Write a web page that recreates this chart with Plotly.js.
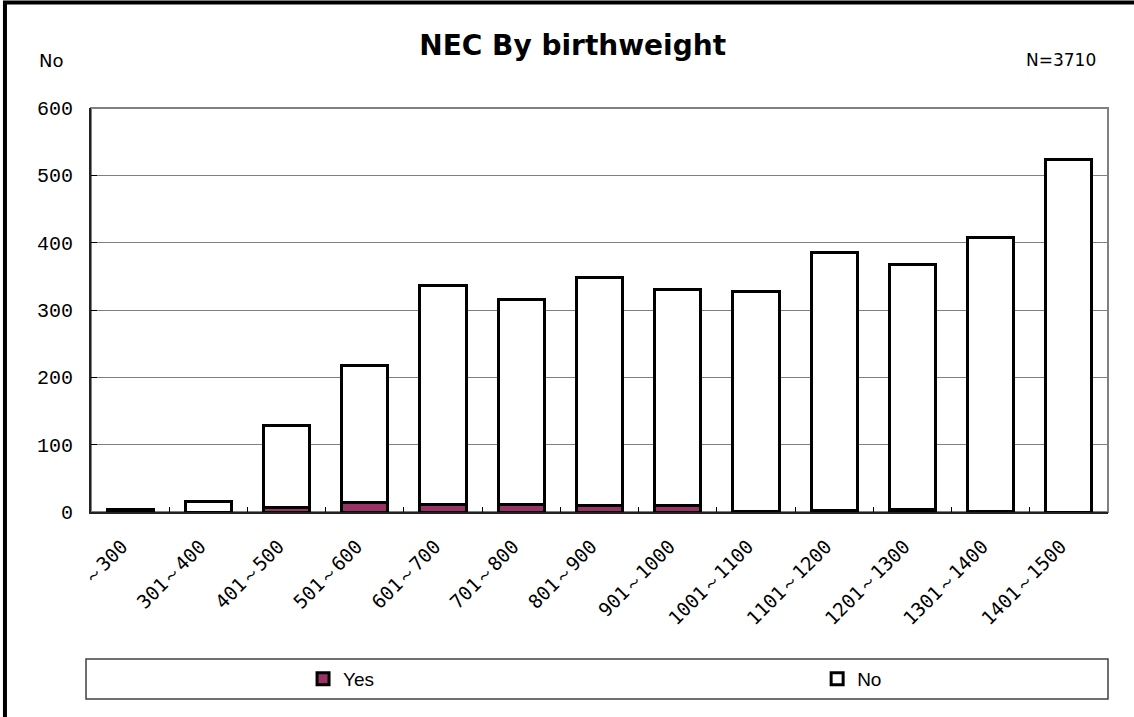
<!DOCTYPE html>
<html>
<head>
<meta charset="utf-8">
<script src="https://cdn.plot.ly/plotly-3.0.1.min.js"></script>
<style>html,body{margin:0;padding:0;background:#fff;}#chart{width:1134px;height:717px;}</style>
</head>
<body>
<div id="chart"></div>
<script>
var categories = ["～300","301～400","401～500","501～600","601～700","701～800","801～900","901～1000","1001～1100","1101～1200","1201～1300","1301～1400","1401～1500"];
var yesValues = [1, 0, 6, 14, 11, 11, 9, 9, 1, 2, 3, 1, 0];
var noValues  = [3, 16, 122, 203, 326, 304, 339, 321, 326, 384, 365, 406, 524];
var yTickVals = [0, 100, 200, 300, 400, 500, 600];

var traces = [
  {type:'bar', name:'Yes', x:categories, y:yesValues, legend:'legend',
   marker:{color:'#993366', line:{color:'#000', width:3}}},
  {type:'bar', name:'No', x:categories, y:noValues, legend:'legend2',
   marker:{color:'#ffffff', line:{color:'#000', width:3}}}
];

var legendFont = {family:'Liberation Sans Narrow, Liberation Sans', size:19, color:'#000'};

var layout = {
  width:1134, height:717,
  margin:{l:91, r:26, t:108, b:205},
  paper_bgcolor:'#fff', plot_bgcolor:'#fff',
  barmode:'stack', bargap:0.41,
  showlegend:true,
  title:{text:'<b>NEC By birthweight</b>', x:0.505, xanchor:'center', y:0.937, yanchor:'middle',
         font:{family:'DejaVu Sans', size:28, color:'#000'}},
  xaxis:{type:'category', tickangle:-45, tickson:'boundaries', ticks:'inside', ticklen:5, tickcolor:'#000', tickwidth:1,
         showline:true, linecolor:'#222', linewidth:2, showgrid:false,
         ticklabelstandoff:14, ticklabelshift:-8,
         tickfont:{family:'DejaVu Sans Mono', size:19, color:'#000'}},
  yaxis:{range:[0,600], tickvals:yTickVals, ticks:'inside', ticklen:6, tickcolor:'#000',
         showline:true, linecolor:'#222', linewidth:2, showgrid:true, gridcolor:'#808080', gridwidth:1,
         zeroline:false, ticklabelstandoff:12,
         tickfont:{family:'Liberation Mono', size:20, color:'#000'}},
  legend:{orientation:'h', x:0.2085, xanchor:'left', y:-0.413, yanchor:'middle',
          font:legendFont, bgcolor:'rgba(0,0,0,0)', borderwidth:0},
  legend2:{orientation:'h', x:0.714, xanchor:'left', y:-0.413, yanchor:'middle',
          font:legendFont, bgcolor:'rgba(0,0,0,0)', borderwidth:0},
  shapes:[
    {type:'rect', xref:'paper', yref:'paper', x0:0, x1:1, y0:0, y1:1, line:{color:'#808080', width:2}, layer:'below'},
    {type:'rect', xref:'paper', yref:'paper', x0:-0.0049, x1:1.0, y0:-0.463, y1:-0.364, line:{color:'#404040', width:1.5}},
    {type:'rect', xref:'paper', yref:'paper', x0:-0.0846, x1:1.05, y0:-0.53, y1:1.261, line:{color:'#000', width:4}}
  ],
  annotations:[
    {text:'No', xref:'paper', yref:'paper', x:-0.039, y:1.118, xanchor:'center', yanchor:'middle', showarrow:false,
     font:{family:'DejaVu Sans', size:18, color:'#000'}},
    {text:'N=3710', xref:'paper', yref:'paper', x:0.99, y:1.118, xanchor:'right', yanchor:'middle', showarrow:false,
     font:{family:'DejaVu Sans', size:17, color:'#000'}}
  ]
};
Plotly.newPlot('chart', traces, layout, {displayModeBar:false, staticPlot:true});
</script>
</body>
</html>
